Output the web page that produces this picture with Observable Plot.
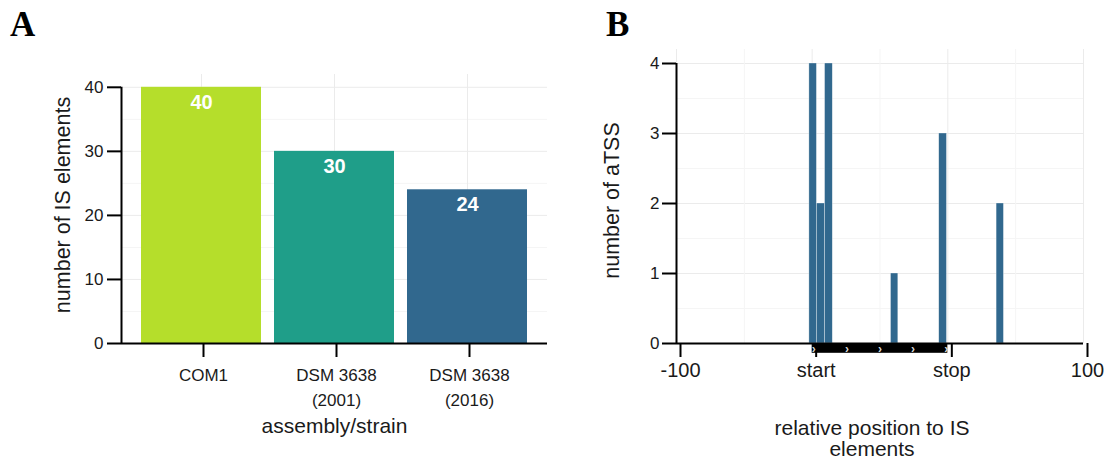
<!DOCTYPE html>
<html>
<head>
<meta charset="utf-8">
<script src="https://cdn.jsdelivr.net/npm/d3@7"></script>
<script src="https://cdn.jsdelivr.net/npm/@observablehq/plot@0.6"></script>
<style>
  body { margin: 0; background: #fff; }
  #wrap { position: relative; width: 1108px; height: 459px; overflow: hidden; }
  .panel { position: absolute; top: 0; }
  .tag { position: absolute; font-family: "Liberation Serif", "Times New Roman", serif; font-weight: bold; font-size: 35px; line-height: 1; color: #000; }
</style>
</head>
<body>
<div id="wrap">
  <div id="a" class="panel" style="left:0"></div>
  <div id="b" class="panel" style="left:560px"></div>
  <div class="tag" style="left:10px;top:7px">A</div>
  <div class="tag" style="left:606px;top:7px">B</div>
</div>
<script>
// ---------- Panel A data ----------
const strains = ["COM1", "DSM 3638\n(2001)", "DSM 3638\n(2016)"];
const isCounts = [40, 30, 24];
const strainColors = ["#b5de2b", "#1f9e89", "#31688e"];
const countTicks = [0, 10, 20, 30, 40];
const countMinor = [5, 15, 25, 35];

// ---------- Panel B data ----------
const binStart = [-34.7, -31.0, -27.0, 5.4, 29.1, 57.3];
const binEnd   = [-31.0, -27.0, -23.2, 9.0, 32.9, 60.9];
const tssCounts = [4, 2, 4, 1, 3, 2];
const posTicks = [-100, -100 / 3, 100 / 3, 100];
const posTickLabels = ["-100", "start", "stop", "100"];
const posMinor = [-200 / 3, 0, 200 / 3];
const tssTicks = [0, 1, 2, 3, 4];
const tssMinor = [0.5, 1.5, 2.5, 3.5];
const isStart = -100 / 3, isStop = 100 / 3;
const chevronPos = [-32.5, -16.25, 0, 16.25, 32.5];

const FONT = '"Liberation Sans", Arial, Helvetica, sans-serif';
const MAJOR = "#ebebeb", MINOR = "#f5f5f5";
const TXT = "#1a1a1a";

// ---------- Panel A ----------
const dataA = strains.map((s, i) => ({strain: s, n: isCounts[i]}));
const WA = 560, H = 459;
const mA = {left: 121, right: 13, top: 74, bottom: 116};
const innerA = WA - mA.left - mA.right;

const plotA = Plot.plot({
  width: WA, height: H,
  marginLeft: mA.left, marginRight: mA.right, marginTop: mA.top, marginBottom: mA.bottom,
  style: {fontFamily: FONT, fontSize: "17px", color: TXT, background: "#fff", overflow: "visible"},
  x: {domain: strains, paddingInner: 0.1, paddingOuter: 0.15, axis: null},
  y: {domain: [0, 42], axis: null},
  color: {domain: strains, range: strainColors},
  marks: [
    Plot.gridY(countMinor, {stroke: MINOR, strokeOpacity: 1}),
    Plot.gridY(countTicks, {stroke: MAJOR, strokeOpacity: 1}),
    Plot.gridX({stroke: MAJOR, strokeOpacity: 1}),
    Plot.barY(dataA, {x: "strain", y: "n", fill: "strain"}),
    Plot.text(dataA, {x: "strain", y: "n", text: d => String(d.n), fill: "white", fontWeight: "bold", fontSize: 20, lineAnchor: "top", dy: 7.5}),
    Plot.ruleY([0], {stroke: "black", strokeWidth: 2}),
    Plot.ruleX([countTicks[countTicks.length - 1]], {x: null, y1: 0, y2: d => d, dx: -innerA / 2, stroke: "black", strokeWidth: 2}),
    Plot.axisY(countTicks, {tickSize: 14, tickPadding: 4, fontSize: 17, strokeWidth: 2, stroke: "black", fill: TXT, label: null}),
    Plot.axisX({tickSize: 14, tickPadding: 5, fontSize: 17, dx: 2, lineHeight: 1.5, strokeWidth: 2, stroke: "black", fill: TXT, label: null}),
    Plot.text(["number of IS elements"], {frameAnchor: "left", textAnchor: "middle", rotate: -90, dx: -67, dy: -4, lineAnchor: "top", fontSize: 21.5, fill: TXT}),
    Plot.text(["assembly/strain"], {frameAnchor: "bottom", textAnchor: "middle", dy: 75, lineAnchor: "top", fontSize: 21, fill: TXT})
  ]
});
document.getElementById("a").appendChild(plotA);

// ---------- Panel B ----------
const dataB = binStart.map((s, i) => ({x1: s, x2: binEnd[i], n: tssCounts[i]}));
const WB = 548;
const mB = {left: 116, right: 25, top: 49, bottom: 116};

const plotB = Plot.plot({
  width: WB, height: H,
  marginLeft: mB.left, marginRight: mB.right, marginTop: mB.top, marginBottom: mB.bottom,
  style: {fontFamily: FONT, fontSize: "17px", color: TXT, background: "#fff", overflow: "visible"},
  x: {domain: [-100, 100], axis: null},
  y: {domain: [0, 4.2], axis: null},
  marks: [
    Plot.gridY(tssMinor, {stroke: MINOR, strokeOpacity: 1}),
    Plot.gridY(tssTicks, {stroke: MAJOR, strokeOpacity: 1}),
    Plot.gridX(posMinor, {stroke: MINOR, strokeOpacity: 1}),
    Plot.gridX(posTicks, {stroke: MAJOR, strokeOpacity: 1}),
    Plot.rectY(dataB, {x1: "x1", x2: "x2", y: "n", fill: "#31688e", stroke: "white", strokeWidth: 0.6, strokeOpacity: 0.55}),
    Plot.ruleY([0], {x1: -100, x2: 100, stroke: "black", strokeWidth: 2}),
    Plot.ruleX([-100], {y1: 0, y2: tssTicks[tssTicks.length - 1], stroke: "black", strokeWidth: 2}),
    Plot.axisY(tssTicks, {tickSize: 14, tickPadding: 3, fontSize: 17, strokeWidth: 2, stroke: "black", fill: TXT, label: null, tickFormat: d => String(d)}),
    Plot.axisX(posTicks, {tickSize: 14, tickPadding: 5, fontSize: 20, dx: 4, strokeWidth: 2, stroke: "black", fill: TXT, label: null,
      tickFormat: d => posTickLabels[posTicks.indexOf(d)]}),
    Plot.rect([{x1: isStart, x2: isStop}], {x1: "x1", x2: "x2", y1: 0, y2: -0.14, fill: "black"}),
    Plot.text(chevronPos, {x: d => d, y: -0.075, text: () => "\u203A", fill: "#d8d8d8", fontSize: 12, fontWeight: "bold"}),
    Plot.text(["number of aTSS"], {frameAnchor: "left", textAnchor: "middle", rotate: -90, dx: -73, dy: 4, lineAnchor: "top", fontSize: 21.5, fill: TXT}),
    Plot.text(["relative position to IS\nelements"], {frameAnchor: "bottom", textAnchor: "middle", dx: -8, dy: 77, lineAnchor: "top", lineHeight: 1.0, fontSize: 21, fill: TXT})
  ]
});
document.getElementById("b").appendChild(plotB);
</script>
</body>
</html>
